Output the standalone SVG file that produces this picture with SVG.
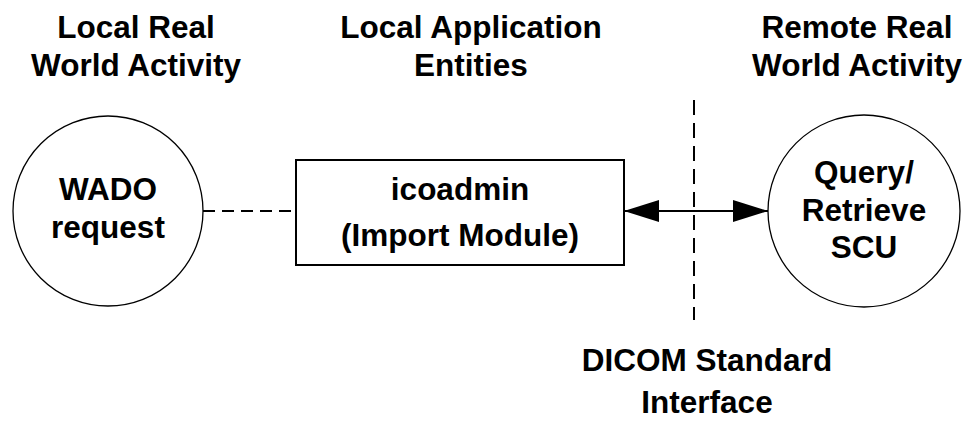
<svg xmlns="http://www.w3.org/2000/svg" width="968" height="424" viewBox="0 0 968 424">
<style>
text{font-family:"Liberation Sans",Arial,sans-serif;font-weight:bold;font-size:31.5px;fill:#000;text-anchor:middle}
.node{fill:#fff;stroke:#000}
.circ{stroke-width:1.3}
.box{stroke-width:2}
.conn{stroke:#000;stroke-width:2;fill:none}
</style>
<defs>
<marker id="ah" viewBox="0 0 35 22" refX="35" refY="11" markerWidth="35" markerHeight="22" markerUnits="userSpaceOnUse" orient="auto-start-reverse">
<path d="M0,0 L35,11 L0,22 Z" fill="#000"/>
</marker>
</defs>
<rect width="968" height="424" fill="#fff"/>
<g id="titles">
<text x="136" y="38">Local Real</text>
<text x="136" y="76">World Activity</text>
<text x="471" y="38">Local Application</text>
<text x="471" y="76">Entities</text>
<text x="857" y="38">Remote Real</text>
<text x="857" y="76">World Activity</text>
</g>
<g id="connectors">
<line class="conn" x1="203" y1="211" x2="296" y2="211" stroke-dasharray="12 7"/>
<line class="conn" x1="694" y1="100" x2="694" y2="320" stroke-dasharray="15 8"/>
<line class="conn" x1="624" y1="211" x2="768" y2="211" marker-start="url(#ah)" marker-end="url(#ah)"/>
</g>
<g id="wado">
<circle class="node circ" cx="108" cy="211" r="95"/>
<text x="108" y="200">WADO</text>
<text x="108" y="238">request</text>
</g>
<g id="icoadmin">
<rect class="node box" x="296" y="160" width="328" height="105"/>
<text x="460" y="200">icoadmin</text>
<text x="460" y="246">(Import Module)</text>
</g>
<g id="qrscu">
<circle class="node circ" cx="864" cy="211" r="96"/>
<text x="864" y="183">Query/</text>
<text x="864" y="221">Retrieve</text>
<text x="864" y="258">SCU</text>
</g>
<g id="dicom">
<text x="707" y="371">DICOM Standard</text>
<text x="707" y="413">Interface</text>
</g>
</svg>
